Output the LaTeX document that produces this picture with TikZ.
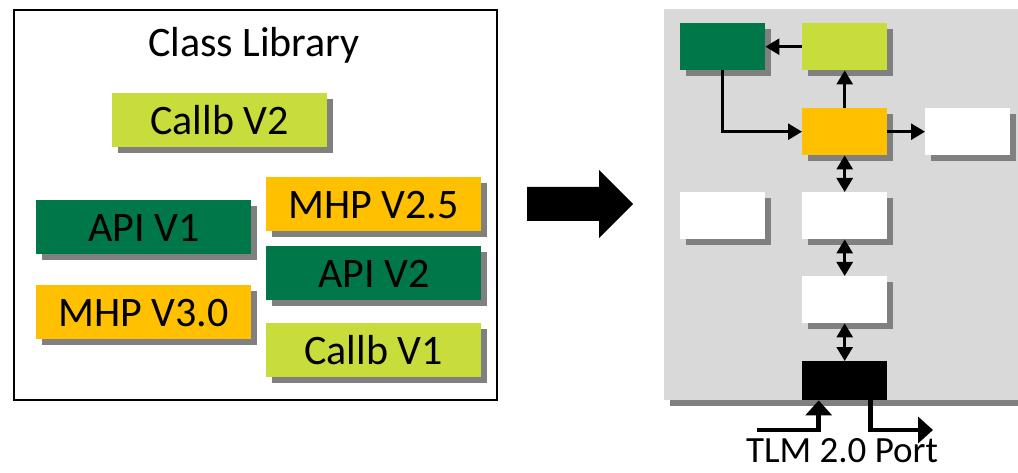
\documentclass[tikz,border=0pt]{standalone}
\usepackage{fontspec}
\setmainfont{Carlito}
\usetikzlibrary{arrows.meta,shadows}
\definecolor{dkgreen}{RGB}{0,119,73}
\definecolor{ltgreen}{RGB}{200,220,60}
\definecolor{amber}{RGB}{255,192,0}
\definecolor{panelgray}{RGB}{217,217,217}
\begin{document}
\begin{tikzpicture}[x=1pt,y=-1pt,
 shd/.style={drop shadow={shadow xshift=6pt,shadow yshift=-6pt,fill=black!50,opacity=1}},
 big/.style={font=\fontsize{42}{50}\selectfont},
 libbox/.style={shd,big,anchor=north west,minimum width=215pt,minimum height=54pt,inner sep=0pt,text height=28pt,text depth=0pt},
 blk/.style={anchor=north west,minimum width=85pt,minimum height=47pt,inner sep=0pt},
 conn/.style={line width=2.8pt,-{Triangle[length=14pt,width=16pt]}},
 dconn/.style={line width=2.8pt,{Triangle[length=14pt,width=16pt]}-{Triangle[length=14pt,width=16pt]}},
 portline/.style={line width=4.5pt,-{Triangle[length=15pt,width=26pt]}}
]
\useasboundingbox (0,0) rectangle (1018,473);
\fill[white] (0,0) rectangle (1018,473);
% left: class library
\node[draw,line width=2pt,anchor=north west,minimum width=483pt,minimum height=390pt,inner sep=0pt] (lib) at (13,9) {};
\node[big,anchor=base,inner sep=0pt] (title) at (254,57) {Class Library};
\node[libbox,fill=ltgreen] (cb2) at (112,93) {Callb V2};
\node[libbox,fill=amber] (m25) at (266,177) {MHP V2.5};
\node[libbox,fill=dkgreen] (api1) at (36,200) {API V1};
\node[libbox,fill=dkgreen] (api2) at (266,246) {API V2};
\node[libbox,fill=amber] (m30) at (36,285) {MHP V3.0};
\node[libbox,fill=ltgreen] (cb1) at (266,323) {Callb V1};
% big arrow
\fill (527,187) -- (599,187) -- (599,170) -- (633,204) -- (599,238) -- (599,221) -- (527,221) -- cycle;
% right panel
\node[shd,fill=panelgray,anchor=north west,minimum width=360pt,minimum height=391pt,inner sep=0pt] (panel) at (664,9) {};
\node[blk,shd,fill=dkgreen] (g) at (680,23) {};
\node[blk,shd,fill=ltgreen] (lg) at (802,23) {};
\node[blk,shd,fill=amber] (o) at (802,108) {};
\node[blk,shd,fill=white] (w1) at (925,108) {};
\node[blk,shd,fill=white] (w2) at (680,192) {};
\node[blk,shd,fill=white] (w3) at (802,192) {};
\node[blk,shd,fill=white] (w4) at (802,276) {};
\node[blk,fill=black,minimum height=39pt] (port) at (802,361) {};
\draw[conn] (lg.west) -- (g.east);
\draw[conn] (o.north) -- (lg.south);
\draw[conn] (g.south) |- (o.west);
\draw[conn] (o.east) -- (w1.west);
\draw[dconn] (o.south) -- (w3.north);
\draw[dconn] (w3.south) -- (w4.north);
\draw[dconn] (w4.south) -- (port.north);
\coordinate (pin) at (757,430);
\coordinate (pout) at (933,430);
\draw[portline] (pin) -| ([xshift=-26pt]port.south);
\draw[portline] ([xshift=26pt]port.south) |- (pout);
\node[font=\fontsize{37}{44}\selectfont,anchor=base,inner sep=0pt] (tlm) at (842,462) {TLM 2.0 Port};
\end{tikzpicture}
\end{document}
